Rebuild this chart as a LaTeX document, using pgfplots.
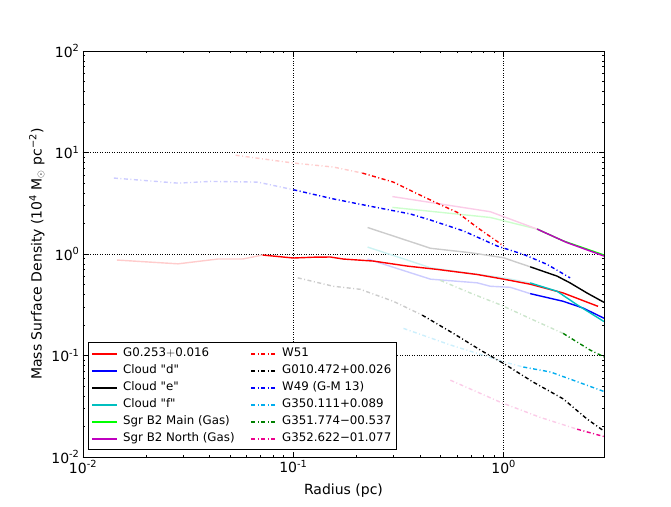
\documentclass[border=0pt]{standalone}
\usepackage{fontspec}
\setmainfont{DejaVu Sans}[Ligatures=TeXOff]
\usepackage{pgfplots}
\pgfplotsset{compat=1.18}
\definecolor{cc}{rgb}{0,0.75,0.75}
\definecolor{mm}{rgb}{0.75,0,0.75}
\definecolor{gg}{rgb}{0,0.5,0}
\definecolor{ll}{rgb}{0,1,0}
\tikzset{
  sl/.style={line width=1.4pt},
  dd/.style={line width=1.4pt, dash pattern=on 4pt off 2.5pt on 1pt off 2.5pt},
}
\begin{document}
\begin{tikzpicture}
\begin{axis}[
  xmode=log, ymode=log, scale only axis,
  width=521pt, height=406pt,
  xmin=0.01, xmax=3, ymin=0.01, ymax=100,
  xtick={0.01,0.1,1},
  xticklabels={10\textsuperscript{-2},10\textsuperscript{-1},10\textsuperscript{0}},
  ytick={0.01,0.1,1,10,100},
  yticklabels={10\textsuperscript{-2},10\textsuperscript{-1},10\textsuperscript{0},10\textsuperscript{1},10\textsuperscript{2}},
  tick align=inside, major tick length=5pt, minor tick length=2.5pt,
  tick style={black, line width=0.6pt},
  grid=major, major grid style={black, dotted, line width=0.7pt},
  axis line style={line width=0.9pt},
  xlabel={Radius (pc)},
  ylabel={Mass Surface Density (10\textsuperscript{4} M$_\odot$ pc\textsuperscript{−2})},
  label style={font=\fontsize{14}{16}\selectfont},
  tick label style={font=\fontsize{14}{16}\selectfont},
  xlabel style={yshift=-4pt},
  legend columns=2,
  legend cell align=left,
  legend image code/.code={\draw[#1, line width=1.7pt] (0pt,0pt) -- (25pt,0pt); \path (28pt,0pt);},
  legend style={at={(0.01,0.017)}, anchor=south west, draw=black, line width=0.9pt,
    font=\fontsize{11.8}{13}\selectfont, row sep=1pt, inner sep=3pt,
    nodes={inner sep=2pt, text height=9pt, text depth=3pt},
    /tikz/every even column/.append style={column sep=14pt}},
]
\coordinate (sw) at (rel axis cs:0,0);
\coordinate (ne) at (rel axis cs:1,1);
% ---- faded parts ----
\addplot[red!20!white, sl, forget plot] coordinates {(0.0145,0.872)(0.0283,0.80)(0.0437,0.892)(0.0574,0.892)(0.0715,0.977)};
\addplot[blue!20!white, sl, forget plot] coordinates {(0.2255,0.892)(0.449,0.565)(0.749,0.52)(0.864,0.481)(1.075,0.47)(1.337,0.407)};
\addplot[black!20!white, sl, forget plot] coordinates {(0.2255,1.824)(0.449,1.139)(0.694,1.03)(1.0,0.919)(1.11,0.852)(1.337,0.748)};
\addplot[cc!20!white, sl, forget plot] coordinates {(0.2255,1.17)(0.36,0.852)(0.449,0.731)(1.0,0.582)(1.337,0.519)};
\addplot[ll!20!white, sl, forget plot] coordinates {(0.296,2.88)(0.864,2.29)(1.443,1.76)};
\addplot[magenta!20!white, sl, forget plot] coordinates {(0.296,3.68)(0.864,2.61)(1.443,1.76)};
\addplot[red!20!white, dd, forget plot] coordinates {(0.0532,9.4)(0.1,7.88)(0.155,7.19)(0.213,6.27)};
\addplot[black!20!white, dd, forget plot] coordinates {(0.105,0.582)(0.155,0.481)(0.208,0.449)(0.299,0.342)(0.41,0.25)};
\addplot[blue!20!white, dd, forget plot] coordinates {(0.01403,5.6)(0.0283,4.99)(0.0405,5.19)(0.0677,5.11)(0.1,4.3)};
\addplot[cyan!20!white, dd, forget plot] coordinates {(0.334,0.185)(0.558,0.127)(0.80,0.1006)(1.0,0.0867)(1.24,0.077)};
\addplot[gg!20!white, dd, forget plot] coordinates {(0.5,0.55)(0.694,0.413)(0.964,0.316)(1.38,0.2245)(1.92,0.165)};
\addplot[magenta!20!white, dd, forget plot] coordinates {(0.558,0.0571)(0.964,0.0347)(1.49,0.0246)(2.235,0.0188)};
% ---- bold parts ----
\addplot[red, sl, forget plot] coordinates {(0.0715,0.977)(0.1,0.913)(0.125,0.93)(0.15,0.934)(0.173,0.892)(0.24,0.852)(0.349,0.76)(0.484,0.705)(0.749,0.628)(1.0,0.565)(1.337,0.504)(1.92,0.413)(2.81,0.305)};
\addplot[blue, sl, forget plot] coordinates {(1.337,0.407)(1.92,0.342)(2.39,0.293)(3,0.233)};
\addplot[black, sl, forget plot] coordinates {(1.337,0.748)(1.797,0.605)(2.07,0.519)(2.49,0.413)(3,0.334)};
\addplot[cc, sl, forget plot] coordinates {(1.337,0.519)(1.797,0.429)(2.235,0.316)(3,0.216)};
\addplot[ll, sl, forget plot] coordinates {(1.443,1.76)(1.92,1.346)(3,0.977)};
\addplot[mm, sl, forget plot] coordinates {(1.443,1.76)(2.0,1.295)(3,0.955)};
\addplot[red, dd, forget plot] coordinates {(0.213,6.27)(0.299,5.11)(0.389,3.92)(0.484,3.16)(0.602,2.57)(0.749,1.826)(1.0,1.20)};
\addplot[black, dd, forget plot] coordinates {(0.41,0.25)(0.577,0.165)(0.776,0.113)(1.0,0.0834)(1.38,0.0548)(1.92,0.0374)(2.49,0.0237)(3,0.018)};
\addplot[blue, dd, forget plot] coordinates {(0.1,4.3)(0.155,3.49)(0.2255,2.99)(0.36,2.48)(0.449,2.16)(0.643,1.69)(0.93,1.20)(1.24,0.993)(1.61,0.79)(2.07,0.582)};
\addplot[cyan, dd, forget plot] coordinates {(1.24,0.077)(1.67,0.0688)(2.14,0.0571)(3,0.0442)};
\addplot[gg, dd, forget plot] coordinates {(1.92,0.165)(2.58,0.113)(3,0.097)};
\addplot[magenta, dd, forget plot] coordinates {(2.235,0.0188)(3,0.0159)};
% ---- legend ----
\addlegendimage{red, sl}\addlegendentry{G0.253$+$0.016}
\addlegendimage{red, dd}\addlegendentry{W51}
\addlegendimage{blue, sl}\addlegendentry{Cloud "d"}
\addlegendimage{black, dd}\addlegendentry{G010.472+00.026}
\addlegendimage{black, sl}\addlegendentry{Cloud "e"}
\addlegendimage{blue, dd}\addlegendentry{W49 (G-M 13)}
\addlegendimage{cc, sl}\addlegendentry{Cloud "f"}
\addlegendimage{cyan, dd}\addlegendentry{G350.111+0.089}
\addlegendimage{ll, sl}\addlegendentry{Sgr B2 Main (Gas)}
\addlegendimage{gg, dd}\addlegendentry{G351.774−00.537}
\addlegendimage{mm, sl}\addlegendentry{Sgr B2 North (Gas)}
\addlegendimage{magenta, dd}\addlegendentry{G352.622−01.077}
\end{axis}
\path ([shift={(-83pt,-50pt)}]sw) rectangle ([shift={(67pt,51pt)}]ne);
\end{tikzpicture}
\end{document}
